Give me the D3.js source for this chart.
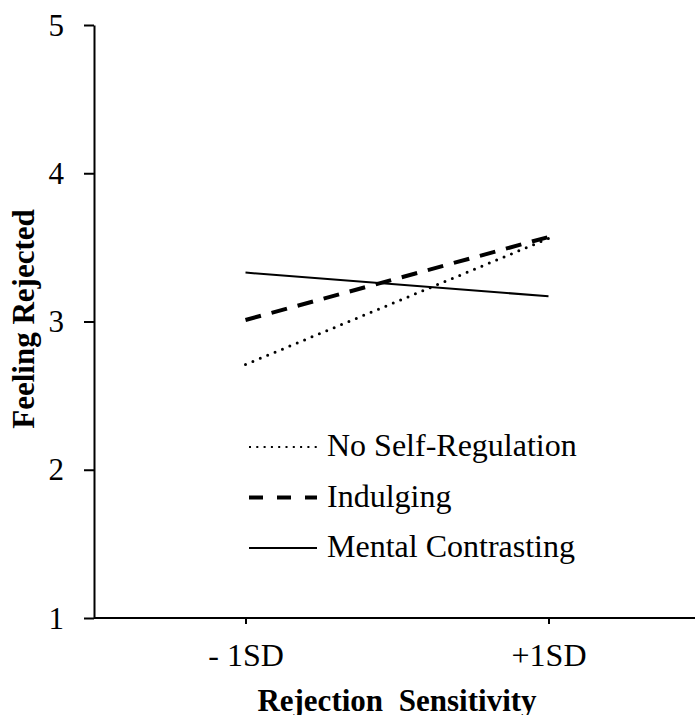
<!DOCTYPE html>
<html>
<head>
<meta charset="utf-8">
<script src="https://cdn.jsdelivr.net/npm/d3@7"></script>
<style>
  html, body { margin: 0; padding: 0; background: #fff; }
  svg { display: block; }
</style>
</head>
<body>
<svg id="chart" width="695" height="715"></svg>
<script>
// Simple slopes: feeling rejected at low / high rejection sensitivity
const categories = ["- 1SD", "+1SD"];
const seriesNames = ["No Self-Regulation", "Indulging", "Mental Contrasting"];
const noSelfRegulation = [2.71, 3.56];
const indulging = [3.01, 3.57];
const mentalContrasting = [3.33, 3.17];
const yTicks = [1, 2, 3, 4, 5];

const seriesValues = [noSelfRegulation, indulging, mentalContrasting];

const FONT = "'Liberation Serif', 'Times New Roman', serif";

// line styles per series (dotted, dashed, solid)
const lineStyle = [
  { width: 3, dash: "0,8", cap: "round", legendWidth: 2, legendDash: "2,5.3", legendCap: "butt" },
  { width: 4, dash: "16,11", cap: "butt", legendWidth: 4, legendDash: "14,14", legendCap: "butt" },
  { width: 2, dash: null, cap: "butt", legendWidth: 2, legendDash: null, legendCap: "butt" }
];

const svg = d3.select("#chart");

const x = d3.scalePoint().domain(categories).range([94, 700]).padding(0.5);
const y = d3.scaleLinear().domain([1, 5]).range([618, 25]);

// Y axis
const yAxis = svg.append("g")
  .attr("transform", "translate(94,0)")
  .call(d3.axisLeft(y).tickValues(yTicks).tickFormat(d3.format("d"))
    .tickSize(10).tickSizeOuter(0).tickPadding(20));
yAxis.select(".domain").attr("stroke", "#000").attr("stroke-width", 2);
yAxis.selectAll(".tick line").attr("stroke", "#000").attr("stroke-width", 2);
yAxis.selectAll(".tick text")
  .style("font-family", FONT)
  .style("font-size", "31px")
  .attr("dy", "0.33em")
  .attr("fill", "#000");

// X axis
const xAxis = svg.append("g")
  .attr("transform", "translate(0,618)")
  .call(d3.axisBottom(x).tickSize(6).tickSizeOuter(0).tickPadding(20));
xAxis.select(".domain").attr("stroke", "#000").attr("stroke-width", 2)
  .attr("d", "M94,0H695");
xAxis.selectAll(".tick line").attr("stroke", "#000").attr("stroke-width", 2);
xAxis.selectAll(".tick text")
  .style("font-family", FONT)
  .style("font-size", "32px")
  .attr("y", 48)
  .attr("dy", 0)
  .attr("fill", "#000");

// Axis titles
svg.append("text")
  .attr("x", 397)
  .attr("y", 711)
  .attr("text-anchor", "middle")
  .style("font-family", FONT)
  .style("font-size", "31px")
  .style("font-weight", "bold")
  .style("word-spacing", "8px")
  .text("Rejection Sensitivity");

svg.append("text")
  .attr("transform", "translate(34,319) rotate(-90)")
  .attr("text-anchor", "middle")
  .style("font-family", FONT)
  .style("font-size", "31px")
  .style("font-weight", "bold")
  .text("Feeling Rejected");

// Series lines
const line = d3.line()
  .x((d, i) => x(categories[i]))
  .y(d => y(d));

svg.append("g").selectAll("path")
  .data(seriesValues)
  .join("path")
  .attr("d", d => line(d))
  .attr("fill", "none")
  .attr("stroke", "#000")
  .attr("stroke-width", (d, i) => lineStyle[i].width)
  .attr("stroke-dasharray", (d, i) => lineStyle[i].dash)
  .attr("stroke-linecap", (d, i) => lineStyle[i].cap);

// Legend
const legend = svg.append("g").attr("transform", "translate(249,447)");
const rowGap = 50.5;
const items = legend.selectAll("g")
  .data(seriesNames)
  .join("g")
  .attr("transform", (d, i) => `translate(0,${i * rowGap})`);

items.append("line")
  .attr("x1", 0).attr("x2", 68)
  .attr("y1", 0).attr("y2", 0)
  .attr("stroke", "#000")
  .attr("stroke-width", (d, i) => lineStyle[i].legendWidth)
  .attr("stroke-dasharray", (d, i) => lineStyle[i].legendDash)
  .attr("stroke-linecap", (d, i) => lineStyle[i].legendCap);

items.append("text")
  .attr("x", 78)
  .attr("y", 9)
  .style("font-family", FONT)
  .style("font-size", "32px")
  .text(d => d);
</script>
</body>
</html>
